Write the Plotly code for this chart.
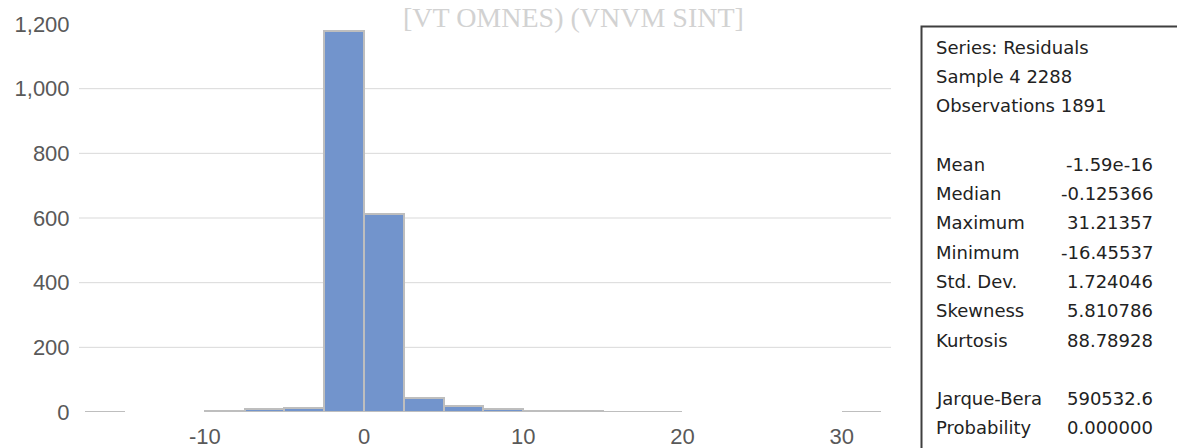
import plotly.graph_objects as go

# ---------------- data ----------------
bin_starts = [-17.5, -15.0, -12.5, -10.0, -7.5, -5.0, -2.5, 0.0, 2.5, 5.0,
              7.5, 10.0, 12.5, 15.0, 17.5, 20.0, 22.5, 25.0, 27.5, 30.0]
counts = [1, 0, 0, 2, 10, 11, 1177, 612, 42, 18,
          10, 3, 2, 1, 1, 0, 0, 0, 0, 1]
bin_width = 2.5

x_ticks = [-10, 0, 10, 20, 30]
x_tick_labels = ["-10", "0", "10", "20", "30"]
y_ticks = [0, 200, 400, 600, 800, 1000, 1200]
y_tick_labels = ["0", "200", "400", "600", "800", "1,000", "1,200"]
grid_values = [200, 400, 600, 800, 1000]

stat_header = ["Series: Residuals", "Sample 4 2288", "Observations 1891"]
stat_names = ["Mean", "Median", "Maximum", "Minimum", "Std. Dev.", "Skewness", "Kurtosis"]
stat_values = ["-1.59e-16", "-0.125366", "31.21357", "-16.45537", "1.724046", "5.810786", "88.78928"]
test_names = ["Jarque-Bera", "Probability"]
test_values = ["590532.6", "0.000000"]
watermark = "[VT OMNES) (VNVM SINT]"

# ---------------- layout geometry (pixels) ----------------
W, H = 1177, 448
PL, PR, PT, PB = 79, 891, 24, 412


def px_x(x):
    return (x - PL) / (PR - PL)


def px_y(y):
    return (PB - y) / (PB - PT)


# empty bins are not drawn at all (no outline)
bar_heights = [c if c > 0 else None for c in counts]

fig = go.Figure()
fig.add_trace(go.Bar(
    x=bin_starts, y=bar_heights, width=bin_width, offset=0,
    marker=dict(color="#7294CC", line=dict(color="#BEBEBE", width=2)),
    showlegend=False, hoverinfo="x+y",
))

shapes = []
for g in grid_values:
    shapes.append(dict(type="line", xref="paper", yref="y", x0=0, x1=1, y0=g, y1=g,
                       line=dict(color="#D9D9D9", width=1), layer="below"))
# statistics box
shapes.append(dict(type="rect", xref="paper", yref="paper",
                   x0=px_x(921.5), x1=px_x(1200), y0=px_y(26.5), y1=px_y(470),
                   line=dict(color="#3F3F3F", width=2), fillcolor="rgba(0,0,0,0)"))

annotations = []
line_h = 29.3
y0 = 47
rows = [(t, None) for t in stat_header] + [(None, None)] + \
       list(zip(stat_names, stat_values)) + [(None, None)] + list(zip(test_names, test_values))
stat_font = dict(family="DejaVu Sans", size=18, color="#222222")
for i, (lab, val) in enumerate(rows):
    yy = y0 + i * line_h
    if lab is not None:
        annotations.append(dict(text=lab, xref="paper", yref="paper", x=px_x(934), y=px_y(yy),
                                xanchor="left", yanchor="middle", showarrow=False, font=stat_font))
    if val is not None:
        annotations.append(dict(text=val, xref="paper", yref="paper", x=px_x(1155), y=px_y(yy),
                                xanchor="right", yanchor="middle", showarrow=False, font=stat_font))

annotations.append(dict(text=watermark, xref="paper", yref="paper", x=px_x(573), y=px_y(17),
                        xanchor="center", yanchor="middle", showarrow=False,
                        font=dict(family="Liberation Serif", size=28, color="#D2D2D2")))

fig.update_layout(
    template="none",
    width=W, height=H,
    margin=dict(l=PL, r=W - PR, t=PT, b=H - PB, pad=0),
    paper_bgcolor="white", plot_bgcolor="white",
    bargap=0,
    shapes=shapes, annotations=annotations,
    font=dict(family="Liberation Sans", size=22, color="#595959"),
    xaxis=dict(range=[-17.9, 33.1], tickvals=x_ticks, ticktext=x_tick_labels,
               showgrid=False, zeroline=False, automargin=False,
               showline=False, ticks="outside", ticklen=5, tickcolor="rgba(0,0,0,0)"),
    yaxis=dict(range=[0, 1200], tickvals=y_ticks, ticktext=y_tick_labels, showgrid=False,
               zeroline=False, showline=False, automargin=False, ticks="outside", ticklen=4,
               tickcolor="rgba(0,0,0,0)"),
)

fig.write_html("out.html")
